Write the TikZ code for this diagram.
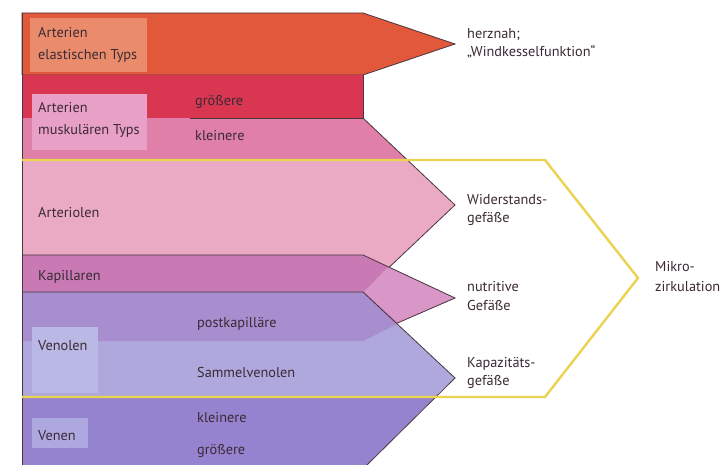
\documentclass[tikz,border=0pt]{standalone}
\usepackage{fontspec}
\setmainfont{PT Sans}
\definecolor{elast}{HTML}{E2583B}
\definecolor{elastbox}{HTML}{EA8C6B}
\definecolor{gross}{HTML}{D93651}
\definecolor{klein}{HTML}{E07FA8}
\definecolor{muskbox}{HTML}{E8A0C6}
\definecolor{arteriol}{HTML}{EBAAC4}
\definecolor{kapill}{HTML}{C97AB4}
\definecolor{nutri}{HTML}{D897C6}
\definecolor{postkap}{HTML}{A88ECF}
\definecolor{sammel}{HTML}{AFA8DD}
\definecolor{venolbox}{HTML}{BAB8E4}
\definecolor{venen}{HTML}{9683CF}
\definecolor{venenbox}{HTML}{ADA9E0}
\definecolor{gelb}{HTML}{EBD350}
\definecolor{kontur}{HTML}{4A3540}
\definecolor{schrift}{HTML}{3A2A35}
\tikzset{
  lbl/.style={anchor=base west, inner sep=0pt, text=schrift, font=\fontsize{14.3}{18}\selectfont},
  kont/.style={draw=kontur, line width=0.8pt, line join=miter},
}
\begin{document}
\begin{tikzpicture}[x=1pt,y=-1pt]
\useasboundingbox[fill=white] (0,0) rectangle (726,465);
% Arterien elastischen Typs
\fill[elast] (22,13) -- (363,13) -- (455,44) -- (363,75) -- (22,75) -- cycle;
\draw[kont] (22,75) -- (22,13) -- (363,13) -- (455,44) -- (363,75) -- (22,75);
% Arteriolen big arrow (with kleinere band)
\fill[arteriol] (22,118) -- (363,118) -- (455,205) -- (363,292) -- (22,292) -- cycle;
\fill[klein] (22,118) -- (363,118) -- (407,160) -- (22,160) -- cycle;
\draw[kont] (363,118) -- (455,205) -- (363,292);
% groessere band
\fill[gross] (22,75) rectangle (363,118);
\draw[kont] (363,75) -- (363,118) -- (190,118);
% Kapillaren
\fill[kapill] (22,255) -- (363,255) -- (455,298) -- (363,338) -- (22,338) -- cycle;
\fill[nutri] (388,267) -- (455,298) -- (398,323) -- (364,292) -- cycle;
\draw[kont] (22,255) -- (363,255) -- (455,298) -- (363,338);
% Venolen / Venen
\fill[sammel] (22,292) -- (363,292) -- (455,378) -- (363,465) -- (22,465) -- cycle;
\fill[postkap] (22,292) -- (363,292) -- (397,324) -- (363,341) -- (22,341) -- cycle;
\fill[venen] (22,397) -- (435,397) -- (367,465) -- (22,465) -- cycle;
\draw[kont] (22,292) -- (363,292) -- (455,378) -- (367,465);
\draw[kont] (22,13) -- (22,465);
% label boxes
\fill[elastbox] (30,18) rectangle (147,72);
\fill[muskbox] (32,94) rectangle (147,150);
\fill[venolbox] (32,327) rectangle (98,393);
\fill[venenbox] (32,418) rectangle (88,448);
% Mikrozirkulation hexagon
\draw[gelb, line width=2.4pt, line join=miter] (22,160) -- (545,160) -- (638,278) -- (545,397) -- (22,397);
% texts left
\node[lbl] (ae1) at (38,38) {Arterien};
\node[lbl] (ae2) at (38,60) {elastischen Typs};
\node[lbl] (am1) at (38,113) {Arterien};
\node[lbl] (am2) at (38,135) {muskulären Typs};
\node[lbl] (mg) at (195,106) {größere};
\node[lbl] (mk) at (195,141) {kleinere};
\node[lbl] (ao) at (38,218) {Arteriolen};
\node[lbl] (ka) at (38,281) {Kapillaren};
\node[lbl] (pk) at (197,327) {postkapilläre};
\node[lbl] (vo) at (38,350) {Venolen};
\node[lbl] (sv) at (197,377) {Sammelvenolen};
\node[lbl] (vk) at (197,422) {kleinere};
\node[lbl] (ve) at (38,440) {Venen};
\node[lbl] (vg) at (197,454) {größere};
% texts right
\node[lbl] (h1) at (467,39) {herznah;};
\node[lbl] (h2) at (467,57) {„Windkesselfunktion“};
\node[lbl] (w1) at (467,205) {Widerstands-};
\node[lbl] (w2) at (467,223) {gefäße};
\node[lbl] (n1) at (467,292) {nutritive};
\node[lbl] (n2) at (467,310) {Gefäße};
\node[lbl] (k1) at (467,367) {Kapazitäts-};
\node[lbl] (k2) at (467,385) {gefäße};
\node[lbl] (m1) at (655,272) {Mikro-};
\node[lbl] (m2) at (655,292) {zirkulation};
\end{tikzpicture}
\end{document}
